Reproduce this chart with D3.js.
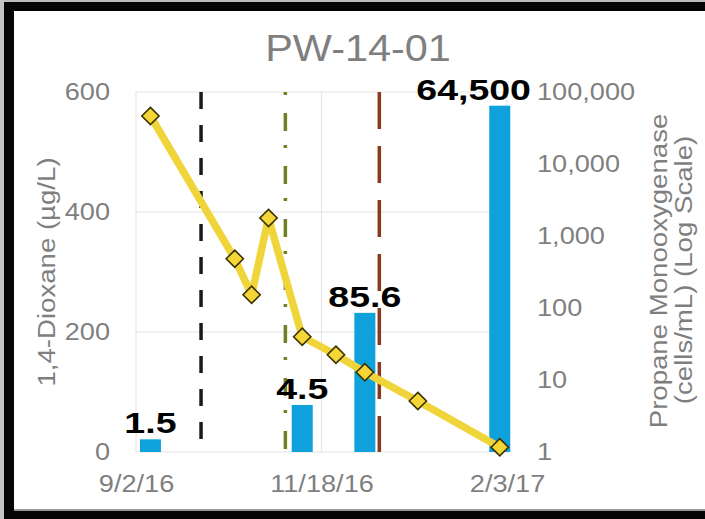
<!DOCTYPE html>
<html>
<head>
<meta charset="utf-8">
<script src="https://cdn.jsdelivr.net/npm/d3@7"></script>
<style>
  html, body { margin: 0; padding: 0; background: #fff; }
  svg { display: block; font-family: "Liberation Sans", Arial, sans-serif; }
</style>
</head>
<body>
<div id="chart"></div>
<script>
// 1,4-Dioxane samples (left axis, ug/L)
const dioxaneDates = ["2016-09-08", "2016-10-13", "2016-10-20", "2016-10-27", "2016-11-10", "2016-11-24", "2016-12-06", "2016-12-28", "2017-01-31"];
const dioxaneValues = [560, 322, 262, 390, 192, 162, 133, 85, 8];

// propane monooxygenase (right axis, log scale)
const pmoDates = ["2016-09-08", "2016-11-10", "2016-12-06", "2017-01-31"];
const pmoValues = [1.5, 4.5, 85.6, 64500];
const pmoLabels = ["1.5", "4.5", "85.6", "64,500"];

// event markers (vertical lines)
const eventDates = ["2016-09-29", "2016-11-03", "2016-12-12"];
const eventColors = ["#1a1a1a", "#6f7f22", "#8a3a1c"];
const eventDashes = ["17,16", "3,18,18,14", "37,17"];

const xTicks = ["2016-09-02", "2016-11-18", "2017-02-03"];
const leftTicks = [0, 200, 400, 600];
const rightTicks = [1, 10, 100, 1000, 10000, 100000];

const parseDate = d3.timeParse("%Y-%m-%d");
const W = 705, H = 519;
const plot = { left: 135, right: 509, top: 92, bottom: 452 };
const gray = "#7f7f7f";

// stretch text a bit horizontally, the original is wider than plain Arial
const stretch = function (sel, k) {
  sel.each(function () {
    const w = this.getComputedTextLength();
    this.setAttribute("textLength", w * k);
    this.setAttribute("lengthAdjust", "spacingAndGlyphs");
  });
};

const svg = d3.select("#chart").append("svg")
  .attr("width", W)
  .attr("height", H);

svg.append("rect").attr("width", W).attr("height", H).attr("fill", "#fff");

const x = d3.scaleTime()
  .domain([parseDate(xTicks[0]), parseDate(xTicks[2])])
  .range([136, 507]);
const yL = d3.scaleLinear().domain([0, 600]).range([plot.bottom, plot.top]);
const yR = d3.scaleLog().domain([1, 100000]).range([plot.bottom, plot.top]);

// gridlines
svg.append("g").selectAll("line.h")
  .data(leftTicks)
  .join("line")
  .attr("x1", plot.left).attr("x2", plot.right)
  .attr("y1", d => yL(d)).attr("y2", d => yL(d))
  .attr("stroke", "#e3e3e3").attr("stroke-width", 1);
svg.append("g").selectAll("line.v")
  .data(xTicks)
  .join("line")
  .attr("x1", d => x(parseDate(d))).attr("x2", d => x(parseDate(d)))
  .attr("y1", plot.top).attr("y2", plot.bottom)
  .attr("stroke", "#e3e3e3").attr("stroke-width", 1);

// axes
const axisFont = function (g) {
  g.select(".domain").remove();
  g.selectAll("text").attr("font-size", 23).attr("fill", gray)
    .attr("font-family", "Liberation Sans, Arial, sans-serif");
};

const gLeft = svg.append("g")
  .attr("transform", "translate(" + plot.left + ",0)")
  .call(d3.axisLeft(yL).tickValues(leftTicks).tickSize(0).tickPadding(25))
  .call(axisFont);
const gRight = svg.append("g")
  .attr("transform", "translate(" + plot.right + ",0)")
  .call(d3.axisRight(yR).tickValues(rightTicks).tickSize(0).tickPadding(28).tickFormat(d3.format(",")))
  .call(axisFont);
const gBottom = svg.append("g")
  .attr("transform", "translate(0," + plot.bottom + ")")
  .call(d3.axisBottom(x).tickValues(xTicks.map(parseDate)).tickSize(0).tickPadding(24)
    .tickFormat(d3.timeFormat("%-m/%-d/%y")))
  .call(axisFont);

// bars
const bw = 21;
svg.append("g").selectAll("rect")
  .data(pmoValues)
  .join("rect")
  .attr("x", (d, i) => x(parseDate(pmoDates[i])) - bw / 2)
  .attr("y", d => yR(d))
  .attr("width", bw)
  .attr("height", d => plot.bottom - yR(d))
  .attr("fill", "#0fa1dc");

// vertical event lines
svg.append("g").selectAll("line")
  .data(eventDates)
  .join("line")
  .attr("x1", d => x(parseDate(d))).attr("x2", d => x(parseDate(d)))
  .attr("y1", plot.top).attr("y2", plot.bottom)
  .attr("stroke", (d, i) => eventColors[i])
  .attr("stroke-width", 3.5)
  .attr("stroke-dasharray", (d, i) => eventDashes[i]);

// dioxane line + diamonds
const pts = dioxaneValues.map((v, i) => ({ date: parseDate(dioxaneDates[i]), value: v }));
svg.append("path")
  .datum(pts)
  .attr("fill", "none")
  .attr("stroke", "#f0d53a")
  .attr("stroke-width", 7.5)
  .attr("stroke-linejoin", "round")
  .attr("d", d3.line().x(d => x(d.date)).y(d => yL(d.value)));
svg.append("g").selectAll("path")
  .data(pts)
  .join("path")
  .attr("transform", d => "translate(" + x(d.date) + "," + yL(d.value) + ")")
  .attr("d", d3.symbol(d3.symbolDiamond2, 190))
  .attr("fill", "#f4d636")
  .attr("stroke", "#3a3300")
  .attr("stroke-width", 1.6);

// data labels
const labels = svg.append("g").selectAll("text")
  .data(pmoValues)
  .join("text")
  .attr("x", (d, i) => x(parseDate(pmoDates[i])))
  .attr("y", d => yR(d) - 6)
  .attr("text-anchor", "middle")
  .attr("font-size", 30)
  .attr("font-weight", "bold")
  .attr("fill", "#000")
  .text((d, i) => pmoLabels[i]);

// title
const title = svg.append("text")
  .attr("x", 358).attr("y", 61)
  .attr("text-anchor", "middle")
  .attr("font-size", 36)
  .attr("fill", gray)
  .text("PW-14-01");

// axis titles
const axTitles = svg.append("g");
axTitles.append("text")
  .attr("transform", "translate(55,272) rotate(-90)")
  .attr("text-anchor", "middle")
  .attr("font-size", 23).attr("fill", gray)
  .text("1,4-Dioxane (\u00b5g/L)");
axTitles.append("text")
  .attr("transform", "translate(667,271) rotate(-90)")
  .attr("text-anchor", "middle")
  .attr("font-size", 23).attr("fill", gray)
  .text("Propane Monooxygenase");
axTitles.append("text")
  .attr("transform", "translate(692,270) rotate(-90)")
  .attr("text-anchor", "middle")
  .attr("font-size", 23).attr("fill", gray)
  .text("(cells/mL) (Log Scale)");

stretch(gLeft.selectAll("text"), 1.18);
stretch(gRight.selectAll("text"), 1.18);
stretch(gBottom.selectAll("text"), 1.18);
stretch(labels, 1.25);
stretch(title, 1.15);
stretch(axTitles.selectAll("text"), 1.2);

// keep data labels clear of the right tick labels
labels.each(function () {
  const w = +this.getAttribute("textLength");
  const cx = +this.getAttribute("x");
  if (cx + w / 2 > 531) this.setAttribute("x", 531 - w / 2);
});

// photo frame around the chart
const frame = svg.append("g");
frame.append("rect").attr("x", 0).attr("y", 0).attr("width", W).attr("height", 2).attr("fill", "#bdbdbd");
frame.append("rect").attr("x", 0).attr("y", 0).attr("width", 4).attr("height", H).attr("fill", "#c4c4c4");
frame.append("rect").attr("x", 4).attr("y", 2).attr("width", W - 4).attr("height", 9).attr("fill", "#050505");
frame.append("rect").attr("x", 4).attr("y", 2).attr("width", 10).attr("height", H - 2).attr("fill", "#050505");
frame.append("rect").attr("x", 14).attr("y", 509).attr("width", W - 14).attr("height", 2).attr("fill", "#9a9a9a");
frame.append("rect").attr("x", 4).attr("y", 511).attr("width", W - 4).attr("height", 8).attr("fill", "#050505");
</script>
</body>
</html>
